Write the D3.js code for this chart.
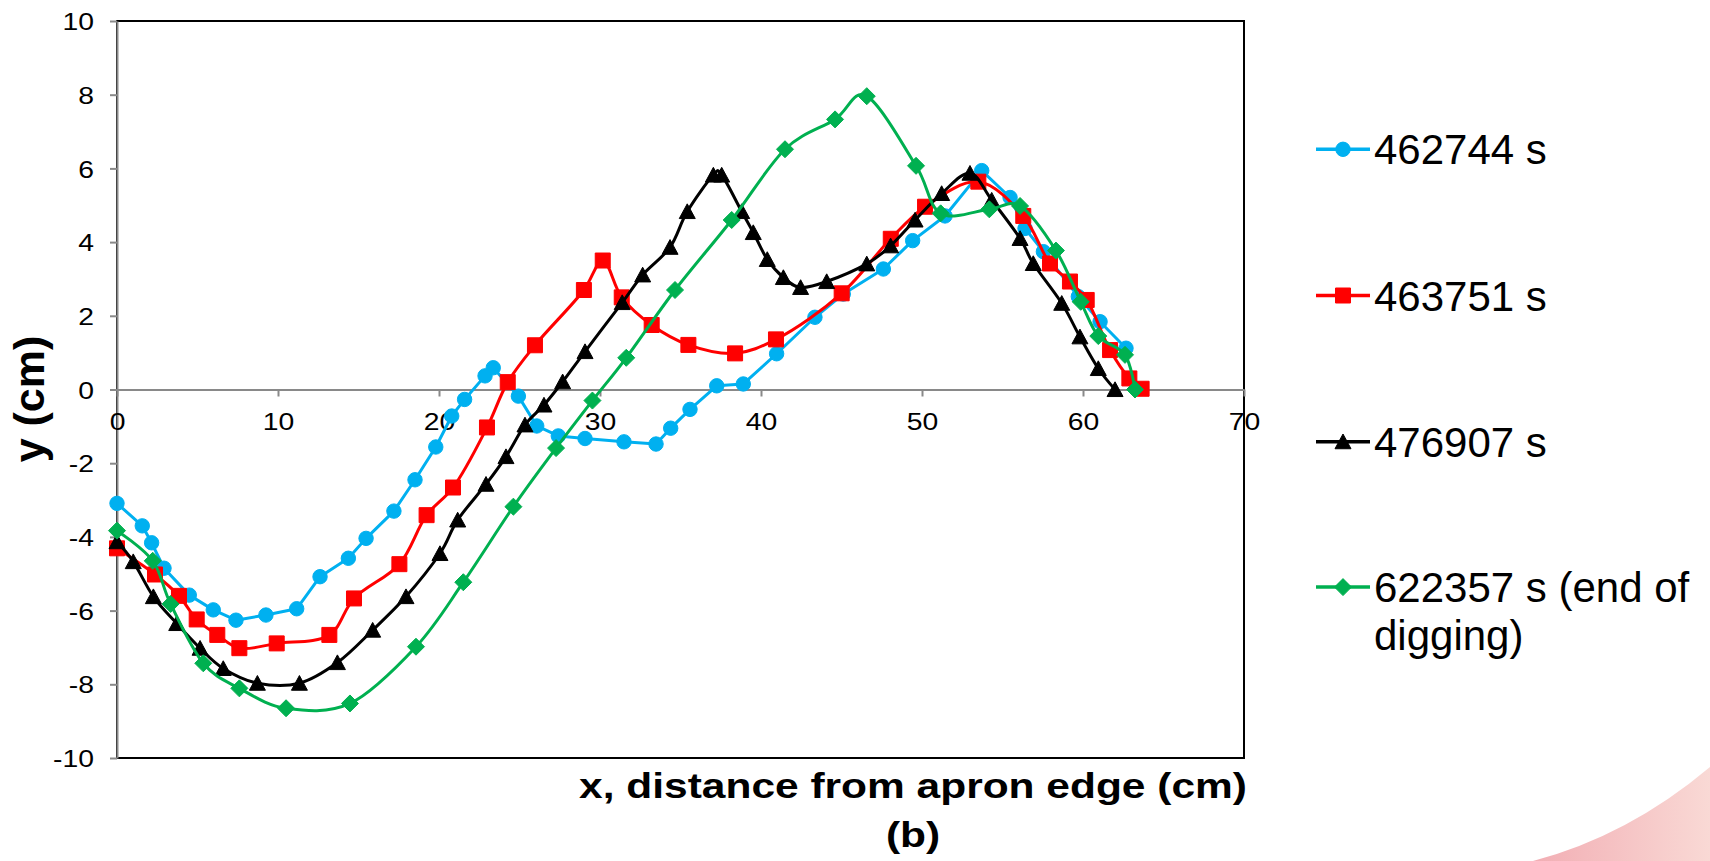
<!DOCTYPE html>
<html>
<head>
<meta charset="utf-8">
<script src="https://cdn.jsdelivr.net/npm/d3@7"></script>
<style>
  html, body { margin: 0; padding: 0; background: #fff; }
  svg { display: block; font-family: "Liberation Sans", Arial, sans-serif; }
</style>
</head>
<body>
<svg id="chart" width="1710" height="861"></svg>
<script>
// ---- data: bed profile y (cm) against distance x (cm) at four times ----
const xTicks = [0, 10, 20, 30, 40, 50, 60, 70];
const yTicks = [-10, -8, -6, -4, -2, 0, 2, 4, 6, 8, 10];

const seriesNames = ["462744 s", "463751 s", "476907 s", "622357 s (end of digging)"];
const legendLines = [["462744 s"], ["463751 s"], ["476907 s"], ["622357 s (end of", "digging)"]];

const blueX = [0, 1.57, 2.15, 2.92, 4.49, 5.98, 7.39, 9.25, 11.16, 12.61, 14.37, 15.47, 17.20, 18.51, 19.80,
  20.79, 21.59, 22.86, 23.37, 24.93, 26.07, 27.41, 29.07, 31.49, 33.48, 34.39, 35.59, 37.25, 38.90, 40.97,
  43.35, 45.11, 47.60, 49.42, 51.43, 53.71, 55.47, 56.40, 57.54, 59.71, 61.06, 62.67];
const blueY = [-3.09, -3.70, -4.16, -4.85, -5.58, -5.98, -6.26, -6.12, -5.95, -5.08, -4.58, -4.04, -3.30, -2.45, -1.56,
  -0.72, -0.27, 0.37, 0.59, -0.18, -0.99, -1.26, -1.33, -1.42, -1.48, -1.05, -0.54, 0.10, 0.15, 0.97,
  1.96, 2.59, 3.27, 4.04, 4.71, 5.94, 5.21, 4.37, 3.74, 2.52, 1.84, 1.12];

const redX = [0, 2.36, 3.85, 4.95, 6.23, 7.60, 9.92, 13.19, 14.72, 17.54, 19.23, 20.87, 22.98, 24.27, 25.96,
  29.00, 30.17, 31.35, 33.21, 35.49, 38.39, 40.93, 45.01, 48.06, 50.19, 53.50, 56.29, 57.95, 59.19, 60.23,
  61.68, 62.88, 63.64];
const redY = [-4.31, -5.02, -5.60, -6.24, -6.66, -7.02, -6.89, -6.66, -5.67, -4.74, -3.41, -2.66, -1.03, 0.20, 1.20,
  2.70, 3.50, 2.50, 1.75, 1.21, 0.98, 1.36, 2.61, 4.09, 4.96, 5.64, 4.71, 3.42, 2.93, 2.43,
  1.07, 0.30, 0.02];

const blackX = [0, 1.01, 2.26, 3.71, 5.16, 6.60, 8.72, 11.33, 13.69, 15.88, 17.95, 20.06, 21.16, 22.92, 24.16,
  25.34, 26.52, 27.68, 29.07, 31.38, 32.65, 34.35, 35.42, 37.04, 37.56, 38.80, 39.52, 40.39, 41.39, 42.46,
  44.08, 46.57, 48.05, 49.57, 51.22, 52.98, 54.33, 56.09, 56.91, 58.68, 59.81, 60.95, 61.99];
const blackY = [-4.13, -4.67, -5.62, -6.35, -7.02, -7.57, -7.97, -7.97, -7.41, -6.53, -5.62, -4.45, -3.54, -2.57, -1.82,
  -0.96, -0.42, 0.21, 1.03, 2.36, 3.11, 3.86, 4.83, 5.82, 5.82, 4.83, 4.26, 3.53, 3.04, 2.77,
  2.93, 3.41, 3.90, 4.60, 5.32, 5.87, 5.14, 4.10, 3.42, 2.34, 1.43, 0.57, 0.00];

const greenX = [0, 2.22, 3.33, 5.36, 7.60, 10.50, 14.47, 18.57, 21.51, 24.62, 27.27, 29.53, 31.63, 34.66, 38.18,
  41.49, 44.60, 46.57, 49.63, 51.16, 54.18, 56.09, 58.32, 59.86, 60.95, 62.61, 63.23];
const greenY = [-3.83, -4.65, -5.82, -7.43, -8.11, -8.65, -8.52, -6.98, -5.23, -3.18, -1.59, -0.30, 0.86, 2.70, 4.60,
  6.52, 7.33, 7.96, 6.07, 4.78, 4.89, 4.98, 3.77, 2.38, 1.45, 0.94, 0.00];

// ---- layout ----
const W = 1710, H = 861;
const plot = { left: 117, right: 1244, top: 21, bottom: 758 };
const SX = 1.18;               // axis text is drawn slightly wide
const AXIS_GREY = "#898989";

const x = d3.scaleLinear().domain([0, 70]).range([plot.left, plot.right]);
const y = d3.scaleLinear().domain([-10, 10]).range([plot.bottom, plot.top]);

const svg = d3.select("#chart");

// decorative corner swoosh
const defs = svg.append("defs");
const grad = defs.append("linearGradient").attr("id", "swoosh").attr("x1", "0").attr("x2", "1").attr("y1", "0").attr("y2", "0");
grad.append("stop").attr("offset", "0").attr("stop-color", "#f2aeb4");
grad.append("stop").attr("offset", "1").attr("stop-color", "#f9d9d5");
svg.append("path")
  .attr("d", "M1533,861 Q1628,836 1710,767 L1710,861 Z")
  .attr("fill", "url(#swoosh)");

// plot frame
svg.append("rect")
  .attr("x", plot.left).attr("y", plot.top)
  .attr("width", plot.right - plot.left).attr("height", plot.bottom - plot.top)
  .attr("fill", "none").attr("stroke", "#000").attr("stroke-width", 2);

// y axis
const gy = svg.append("g")
  .attr("transform", `translate(${plot.left},0)`)
  .call(d3.axisLeft(y).tickValues(yTicks).tickSize(7).tickSizeOuter(0).tickFormat(d => String(d)))
  .attr("font-family", null).attr("font-size", null);
gy.select(".domain").attr("stroke", AXIS_GREY).attr("stroke-width", 2);
gy.selectAll(".tick line").attr("stroke", AXIS_GREY).attr("stroke-width", 2);
gy.selectAll(".tick text")
  .attr("x", 0).attr("dy", null)
  .attr("font-size", 24).attr("fill", "#000")
  .attr("text-anchor", "end")
  .attr("transform", `translate(-23,8.6) scale(${SX},1)`);

// x axis through y = 0
const gx = svg.append("g")
  .attr("transform", `translate(0,${y(0)})`)
  .call(d3.axisBottom(x).tickValues(xTicks).tickSize(7).tickSizeOuter(0).tickFormat(d => String(d)))
  .attr("font-family", null).attr("font-size", null);
gx.select(".domain").attr("stroke", AXIS_GREY).attr("stroke-width", 2);
gx.selectAll(".tick line").attr("stroke", AXIS_GREY).attr("stroke-width", 2);
gx.selectAll(".tick text")
  .attr("y", 0).attr("dy", null)
  .attr("font-size", 24).attr("fill", "#000")
  .attr("text-anchor", "middle")
  .attr("transform", `translate(0,40.5) scale(${SX},1)`);

// marker shapes
const triangleType = {
  draw(ctx, size) {
    const w = Math.sqrt(size);
    ctx.moveTo(0, -w * 0.48);
    ctx.lineTo(w * 0.5, w * 0.44);
    ctx.lineTo(-w * 0.5, w * 0.44);
    ctx.closePath();
  }
};
const diamondType = {
  draw(ctx, size) {
    const r = Math.sqrt(size) / 2;
    ctx.moveTo(0, -r); ctx.lineTo(r, 0); ctx.lineTo(0, r); ctx.lineTo(-r, 0);
    ctx.closePath();
  }
};

const series = [
  { name: seriesNames[0], xs: blueX, ys: blueY, color: "#00B0F0", curve: d3.curveLinear,
    symbol: d3.symbol(d3.symbolCircle, Math.PI * 7.2 * 7.2) },
  { name: seriesNames[1], xs: redX, ys: redY, color: "#FF0000", curve: d3.curveCatmullRom.alpha(0.5),
    symbol: d3.symbol(d3.symbolSquare, 15 * 15) },
  { name: seriesNames[2], xs: blackX, ys: blackY, color: "#000000", curve: d3.curveCatmullRom.alpha(0),
    symbol: d3.symbol(triangleType, 16 * 16) },
  { name: seriesNames[3], xs: greenX, ys: greenY, color: "#00B050", curve: d3.curveCatmullRom.alpha(0),
    symbol: d3.symbol(diamondType, 17 * 17) }
];

const plotG = svg.append("g");
series.forEach(s => {
  const pts = s.xs.map((v, i) => [v, s.ys[i]]);
  const line = d3.line().x(d => x(d[0])).y(d => y(d[1])).curve(s.curve);
  const g = plotG.append("g");
  g.append("path")
    .attr("d", line(pts))
    .attr("fill", "none")
    .attr("stroke", s.color)
    .attr("stroke-width", 3)
    .attr("stroke-linejoin", "round");
  g.selectAll("path.mk").data(pts).join("path")
    .attr("class", "mk")
    .attr("d", s.symbol())
    .attr("transform", d => `translate(${x(d[0])},${y(d[1])})`)
    .attr("fill", s.color)
    .attr("stroke", s.color)
    .attr("stroke-width", 1);
});

// legend
const legendBase = [164.3, 310.5, 456.7, 602.1];
const legendLineGap = 48;
const legend = svg.append("g");
series.forEach((s, i) => {
  const cy = legendBase[i] - 15;
  legend.append("line")
    .attr("x1", 1316).attr("x2", 1370).attr("y1", cy).attr("y2", cy)
    .attr("stroke", s.color).attr("stroke-width", 3.5);
  legend.append("path")
    .attr("d", s.symbol())
    .attr("transform", `translate(1343,${cy})`)
    .attr("fill", s.color).attr("stroke", s.color).attr("stroke-width", 1);
  legendLines[i].forEach((txt, j) => {
    legend.append("text")
      .attr("x", 1374)
      .attr("y", legendBase[i] + j * legendLineGap)
      .attr("font-size", 42)
      .attr("fill", "#000")
      .text(txt);
  });
});

// axis titles
svg.append("text")
  .attr("transform", `translate(913,798) scale(${SX},1)`)
  .attr("text-anchor", "middle")
  .attr("font-size", 36).attr("font-weight", "bold").attr("fill", "#000")
  .text("x, distance from apron edge (cm)");
svg.append("text")
  .attr("transform", `translate(913,847) scale(${SX},1)`)
  .attr("text-anchor", "middle")
  .attr("font-size", 36).attr("font-weight", "bold").attr("fill", "#000")
  .text("(b)");
svg.append("text")
  .attr("transform", "translate(44.4,399) rotate(-90)")
  .attr("text-anchor", "middle")
  .attr("font-size", 43).attr("font-weight", "bold").attr("fill", "#000")
  .text("y (cm)");
</script>
</body>
</html>
